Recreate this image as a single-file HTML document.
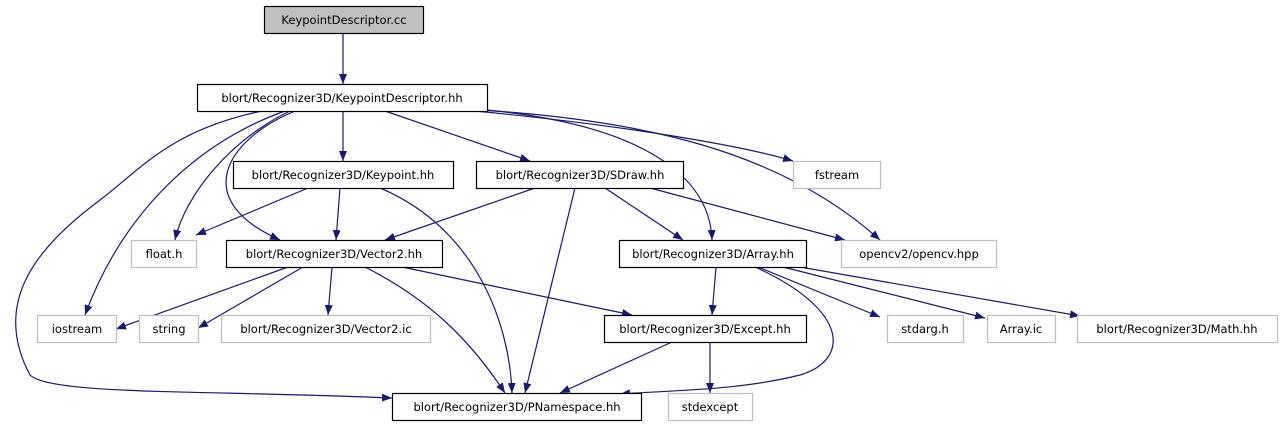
<!DOCTYPE html>
<html><head><meta charset="utf-8"><style>
html,body{margin:0;padding:0;background:#fff;}
svg{display:block;}
text{font-family:"DejaVu Sans","Liberation Sans",sans-serif;font-size:11.5px;fill:#000;}
</style></head><body>
<svg width="1281" height="427" viewBox="0 0 1281 427" xmlns="http://www.w3.org/2000/svg">
<defs>
<marker id="a" viewBox="0 0 10 8" refX="10" refY="4" markerWidth="10" markerHeight="8" markerUnits="userSpaceOnUse" orient="auto">
<path d="M0,0 L10,4 L0,8 z" fill="#191970"/>
</marker>
</defs>
<g fill="none" stroke="#191970" stroke-width="1.2" marker-end="url(#a)">
<path d="M343,33 L343,84"/>
<path d="M343,111 L343,161"/>
<path d="M385,111 L530,161"/>
<path d="M475,111 C620,125 740,145 793,161"/>
<path d="M480,110 C640,120 780,150 880,240"/>
<path d="M487,110 C640,125 710,175 712,240"/>
<path d="M290,111 C230,140 185,195 175,240"/>
<path d="M295,111 C225,140 190,200 280,240"/>
<path d="M285,111 C190,145 120,220 85,315"/>
<path d="M262,111 C170,130 140,170 100,200 C40,245 -10,300 30,375 C50,395 200,390 392,398"/>
<path d="M308,188 L196,235"/>
<path d="M340,188 L336,240"/>
<path d="M380,188 C480,230 510,330 512,393"/>
<path d="M535,188 L385,240"/>
<path d="M575,188 L525,393"/>
<path d="M605,188 L683,240"/>
<path d="M650,188 L845,240"/>
<path d="M288,267 L116,329"/>
<path d="M303,267 L198,328"/>
<path d="M332,267 L328,315"/>
<path d="M365,267 C430,300 470,340 505,393"/>
<path d="M402,267 L632,315"/>
<path d="M716,267 L712,315"/>
<path d="M755,267 C850,310 850,360 800,375 C740,390 680,390 620,394"/>
<path d="M758,267 L880,317"/>
<path d="M783,267 L985,318"/>
<path d="M800,267 L1080,316"/>
<path d="M672,342 L560,393"/>
<path d="M710,342 L710,393"/>
</g>
<g stroke-width="1.2">
<rect x="264.5" y="6.5" width="159" height="27" fill="#bfbfbf" stroke="#000"/>
<rect x="197.5" y="84.5" width="290" height="27" fill="#fff" stroke="#000"/>
<rect x="233.5" y="161.5" width="220" height="27" fill="#fff" stroke="#000"/>
<rect x="476.5" y="161.5" width="207" height="27" fill="#fff" stroke="#000"/>
<rect x="793.5" y="161.5" width="87" height="27" fill="#fff" stroke="#bfbfbf"/>
<rect x="131.5" y="240.5" width="65" height="27" fill="#fff" stroke="#bfbfbf"/>
<rect x="226.5" y="240.5" width="216" height="27" fill="#fff" stroke="#000"/>
<rect x="619.5" y="240.5" width="187" height="27" fill="#fff" stroke="#000"/>
<rect x="841.5" y="240.5" width="155" height="27" fill="#fff" stroke="#bfbfbf"/>
<rect x="37.5" y="315.5" width="79" height="27" fill="#fff" stroke="#bfbfbf"/>
<rect x="139.5" y="315.5" width="59" height="27" fill="#fff" stroke="#bfbfbf"/>
<rect x="221.5" y="315.5" width="209" height="27" fill="#fff" stroke="#bfbfbf"/>
<rect x="604.5" y="315.5" width="202" height="27" fill="#fff" stroke="#000"/>
<rect x="887.5" y="315.5" width="76" height="27" fill="#fff" stroke="#bfbfbf"/>
<rect x="987.5" y="315.5" width="68" height="27" fill="#fff" stroke="#bfbfbf"/>
<rect x="1077.5" y="315.5" width="200" height="27" fill="#fff" stroke="#bfbfbf"/>
<rect x="392.5" y="393.5" width="249" height="27" fill="#fff" stroke="#000"/>
<rect x="668.5" y="393.5" width="84" height="27" fill="#fff" stroke="#bfbfbf"/>
</g>
<g text-anchor="middle">
<text x="344" y="24">KeypointDescriptor.cc</text>
<text x="342" y="102">blort/Recognizer3D/KeypointDescriptor.hh</text>
<text x="343" y="179">blort/Recognizer3D/Keypoint.hh</text>
<text x="580" y="179">blort/Recognizer3D/SDraw.hh</text>
<text x="837" y="179">fstream</text>
<text x="164" y="258">float.h</text>
<text x="334" y="258">blort/Recognizer3D/Vector2.hh</text>
<text x="713" y="258">blort/Recognizer3D/Array.hh</text>
<text x="919" y="258">opencv2/opencv.hpp</text>
<text x="77" y="333">iostream</text>
<text x="169" y="333">string</text>
<text x="326" y="333">blort/Recognizer3D/Vector2.ic</text>
<text x="705" y="333">blort/Recognizer3D/Except.hh</text>
<text x="925" y="333">stdarg.h</text>
<text x="1021" y="333">Array.ic</text>
<text x="1177" y="333">blort/Recognizer3D/Math.hh</text>
<text x="517" y="411">blort/Recognizer3D/PNamespace.hh</text>
<text x="710" y="411">stdexcept</text>
</g>
</svg>
</body></html>
